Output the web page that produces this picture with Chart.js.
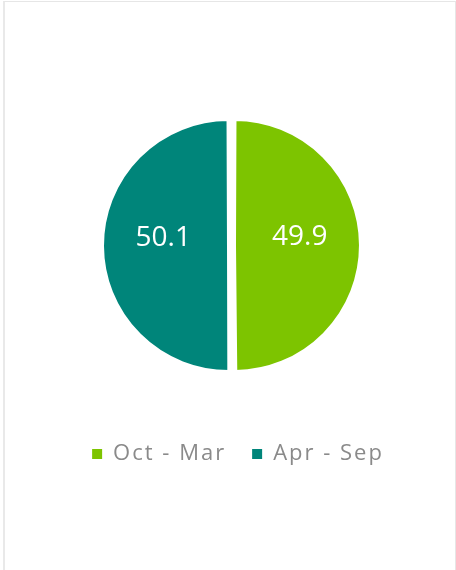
<!DOCTYPE html>
<html>
<head>
<meta charset="utf-8">
<script src="https://cdn.jsdelivr.net/npm/chart.js@4.4.1/dist/chart.umd.min.js"></script>
<style>
  body { margin: 0; background: #ffffff; }
  #frame {
    position: absolute; left: 3px; top: 1px; width: 453px; height: 600px;
    box-sizing: border-box;
    border-top: 1px solid #e6e6e6; border-left: 2px solid #e9e9e9; border-right: 1px solid #e6e6e6;
  }
  #pie { position: absolute; left: 0; top: 0; }
</style>
</head>
<body>
<div id="frame"></div>
<canvas id="pie" width="456" height="570"></canvas>
<script>
// data
const seasons = ['Oct - Mar', 'Apr - Sep'];
const shares = [49.9, 50.1];
const sliceColors = ['#7dc400', '#00857a'];

// white value labels inside each slice
const sliceLabels = {
  id: 'sliceLabels',
  afterDatasetsDraw(chart) {
    const ctx = chart.ctx;
    const meta = chart.getDatasetMeta(0);
    ctx.save();
    ctx.letterSpacing = '0px';
    ctx.font = '28px "Open Sans"';
    ctx.fillStyle = '#ffffff';
    ctx.textAlign = 'center';
    ctx.textBaseline = 'alphabetic';
    meta.data.forEach((arc, i) => {
      const p = arc.getProps(['x', 'y', 'startAngle', 'endAngle', 'outerRadius'], true);
      const mid = (p.startAngle + p.endAngle) / 2;
      const r = p.outerRadius * 0.555;
      ctx.fillText(shares[i].toFixed(1), p.x + Math.cos(mid) * r, p.y + Math.sin(mid) * r);
    });
    ctx.restore();
  }
};

// spaced-out legend text, legend nudged right a little
const legendTweak = {
  id: 'legendTweak',
  beforeLayout(chart) { chart.ctx.letterSpacing = '2px'; },
  afterLayout(chart) {
    chart.legend.left += 6.5;
    chart.legend.right += 6.5;
  },
  beforeDraw(chart) { chart.ctx.letterSpacing = '2px'; }
};

new Chart(document.getElementById('pie').getContext('2d'), {
  type: 'pie',
  data: {
    labels: seasons,
    datasets: [{
      data: shares,
      backgroundColor: sliceColors,
      borderColor: '#ffffff',
      borderWidth: 3,
      offset: 12,
      hoverOffset: 12,
      radius: 123
    }]
  },
  options: {
    responsive: false,
    animation: false,
    layout: { padding: { top: 74, bottom: 95, left: 7, right: 0 } },
    plugins: {
      legend: {
        position: 'bottom',
        labels: {
          boxWidth: 10,
          boxHeight: 10,
          padding: 26,
          color: '#8a8a8a',
          font: { family: '"Open Sans"', size: 22 },
          generateLabels(chart) {
            return seasons.map((s, i) => ({
              text: s,
              fillStyle: sliceColors[i],
              strokeStyle: sliceColors[i],
              fontColor: '#8a8a8a',
              lineWidth: 0,
              hidden: false,
              index: i
            }));
          }
        }
      },
      tooltip: { enabled: false }
    }
  },
  plugins: [sliceLabels, legendTweak]
});
</script>
</body>
</html>
